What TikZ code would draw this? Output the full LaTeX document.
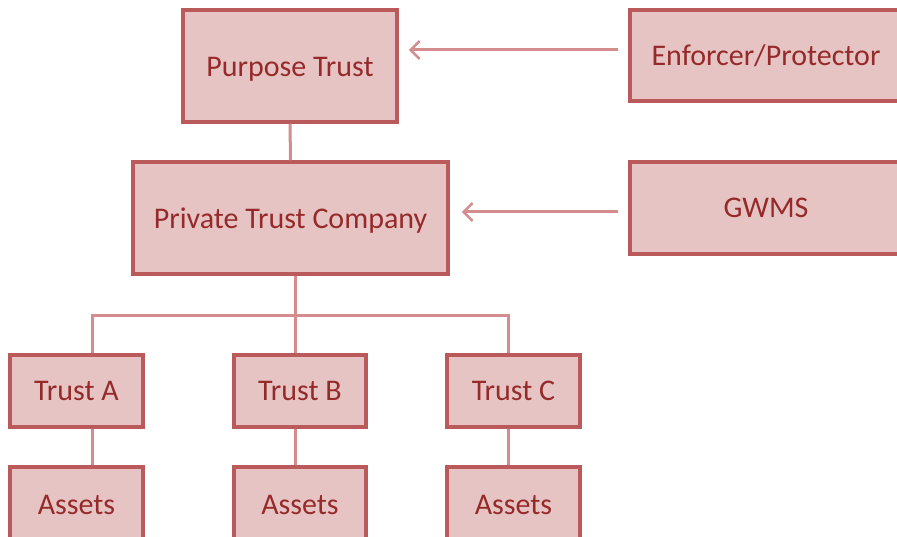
\documentclass[tikz,border=0pt]{standalone}
\usepackage{fontspec}
\setmainfont{Carlito}
\usetikzlibrary{arrows.meta}
\definecolor{boxfill}{RGB}{230,196,196}
\definecolor{boxline}{RGB}{186,90,90}
\definecolor{linkline}{RGB}{212,140,140}
\definecolor{boxtext}{RGB}{150,42,42}
\newcommand{\lowered}[2]{\raisebox{#1}[\height][\depth]{#2}}
\tikzset{
  entity/.style={draw=boxline, fill=boxfill, line width=3.5pt, text=boxtext, inner sep=0pt,
    font=\fontsize{30}{34}\selectfont},
  link/.style={draw=linkline, line width=3pt},
  feed/.style={link, -{Straight Barb[length=9pt, width=18pt, line width=2.5pt]}}
}
\begin{document}
\begin{tikzpicture}[x=1pt, y=-1pt]
    \useasboundingbox (0,0) rectangle (897,537);
    \clip (0,0) rectangle (897,537);

    % Top levels
    \node[entity, minimum width=214pt, minimum height=112pt] (purpose) at (290,66) {\lowered{-3pt}{Purpose Trust}};
    \node[entity, minimum width=315pt, minimum height=112pt] (ptc) at (290.5,218) {\lowered{-3pt}{Private Trust Company}};
    \node[entity, minimum width=272pt, minimum height=91pt] (enforcer) at (766,55.5) {Enforcer/Protector};
    \node[entity, minimum width=272pt, minimum height=92pt] (gwms) at (766,208) {GWMS};

    % Trusts and assets
    \node[entity, minimum width=133pt, minimum height=72pt] (trustA) at (76.5,391) {Trust A};
    \node[entity, minimum width=132pt, minimum height=72pt] (trustB) at (300,391) {Trust B};
    \node[entity, minimum width=133pt, minimum height=72pt] (trustC) at (513.5,391) {Trust C};
    \node[entity, minimum width=133pt, minimum height=80pt] (assetsA) at (76.5,507) {\lowered{2pt}{Assets}};
    \node[entity, minimum width=132pt, minimum height=80pt] (assetsB) at (300,507) {\lowered{2pt}{Assets}};
    \node[entity, minimum width=133pt, minimum height=80pt] (assetsC) at (513.5,507) {\lowered{2pt}{Assets}};

    % Links
    \draw[feed] ([xshift=-10pt]enforcer.west |- 0,50) -- ([xshift=10pt]purpose.east |- 0,50);
    \draw[feed] ([xshift=-10pt]gwms.west |- 0,212) -- ([xshift=12pt]ptc.east |- 0,212);
    \draw[link] (purpose.south) -- (ptc.north);

    % Branches
    \coordinate (busA) at (92,316);
    \coordinate (busB) at (295,316);
    \coordinate (busC) at (508,316);
    \draw[link] (busB |- ptc.south) -- (busB);
    \draw[link] (busA |- trustA.north) -- (busA) -- (busC) -- (busC |- trustC.north);
    \draw[link] (busB) -- (busB |- trustB.north);
    \draw[link] (busA |- trustA.south) -- (busA |- assetsA.north);
    \draw[link] (busB |- trustB.south) -- (busB |- assetsB.north);
    \draw[link] (busC |- trustC.south) -- (busC |- assetsC.north);
  \end{tikzpicture}
\end{document}
